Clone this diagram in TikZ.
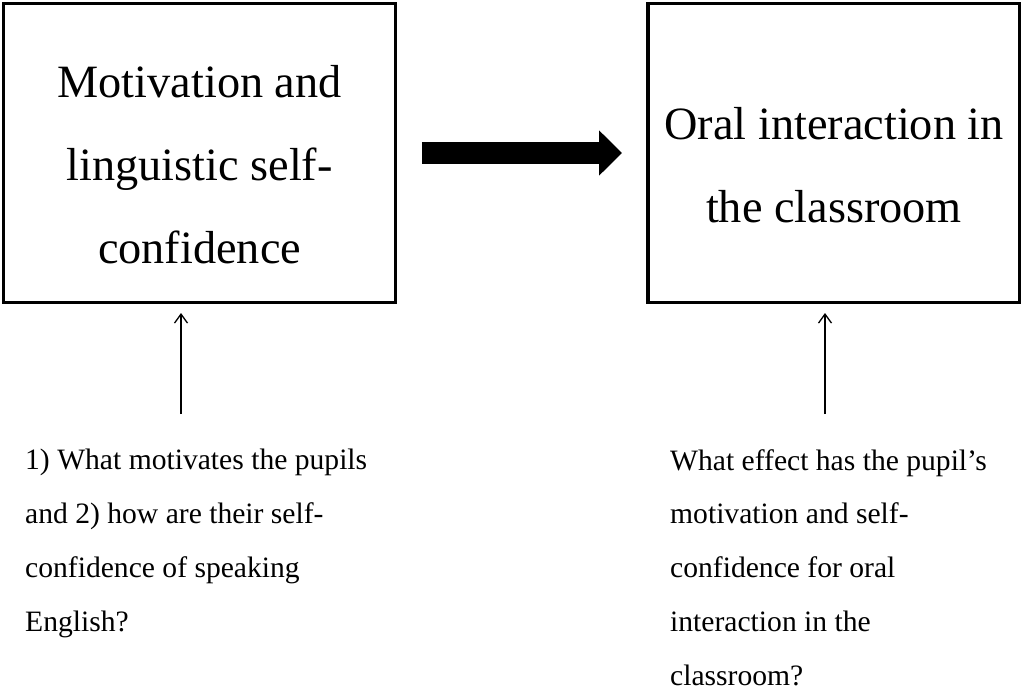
\documentclass[tikz,border=0pt]{standalone}
\usepackage{fontspec}
\setmainfont{Liberation Serif}
\usetikzlibrary{arrows.meta}
\tikzset{
  boxtext/.style={align=center,inner sep=0pt,font=\fontsize{46.3}{83}\selectfont},
  question/.style={align=left,inner sep=0pt,font=\fontsize{29.6}{53.7}\selectfont},
  qarrow/.style={draw=black,line width=1.3pt,-{Straight Barb[length=9pt,width=13pt]}}
}
\begin{document}
\begin{tikzpicture}[x=1pt,y=-1pt]
  \useasboundingbox (0,0) rectangle (1021,693);
  \begin{scope}[every node/.style={rectangle,draw,line width=3.3pt,inner sep=0pt}]
    \node[minimum width=391.8pt,minimum height=298.6pt] (motiv) at (199.6,153) {};
    \node[minimum width=371.5pt,minimum height=298.6pt] (oral) at (833.7,153) {};
  \end{scope}
  \node[boxtext,anchor=base] (motivtext) at (199.6,263) {Motivation and\\linguistic self-\\confidence};
  \node[boxtext,anchor=base] (oraltext) at (834,222) {Oral interaction in\\the classroom};
  \draw[line width=22pt,-{Triangle[length=23pt,width=44pt]}]
    ([xshift=24.7pt]motiv.east) -- ([xshift=-24.3pt]oral.west);
  \node[question,anchor=base west] (motivq) at (25,631) {1) What motivates the pupils\\and 2) how are their self-\\confidence of speaking\\English?};
  \node[question,anchor=base west] (oralq) at (670,685) {What effect has the pupil’s\\motivation and self-\\confidence for oral\\interaction in the\\classroom?};
  \coordinate (motivtail) at (181,414);
  \coordinate (motivtip) at (181,313);
  \coordinate (oraltail) at (825,414);
  \coordinate (oraltip) at (825,313);
  \begin{scope}[every edge/.style={qarrow}]
    \path (motivtail) edge (motivtip);
    \path (oraltail) edge (oraltip);
  \end{scope}
\end{tikzpicture}
\end{document}
